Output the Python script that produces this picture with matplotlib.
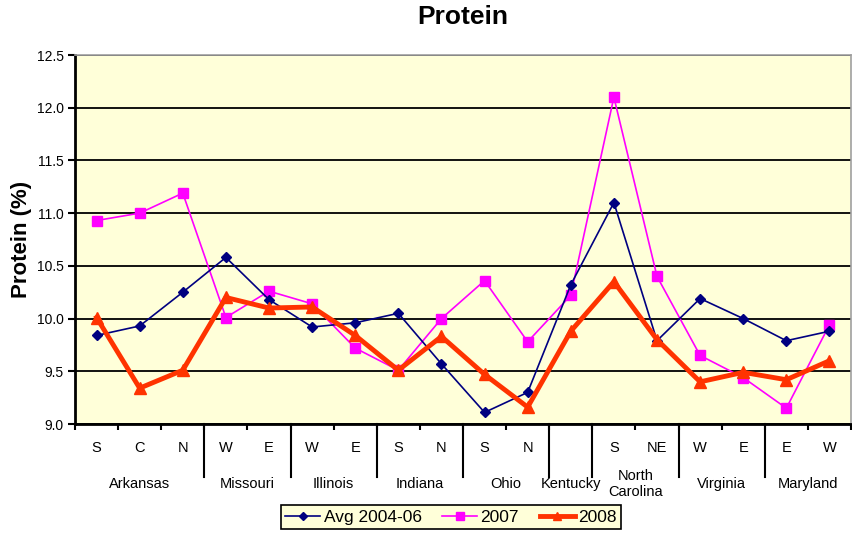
import matplotlib
matplotlib.use("Agg")
import matplotlib.pyplot as plt
import matplotlib.transforms as mtransforms

plt.rcParams['font.family'] = ['Liberation Sans', 'DejaVu Sans']

# Sub-region labels and their states
sub_labels = ["S", "C", "N", "W", "E", "W", "E", "S", "N", "S", "N", "",
              "S", "NE", "W", "E", "E", "W"]
states = ["Arkansas", "Missouri", "Illinois", "Indiana", "Ohio", "Kentucky",
          "North\nCarolina", "Virginia", "Maryland"]
state_sizes = [3, 2, 2, 2, 2, 1, 2, 2, 2]

# Protein (%) by region
avg_2004_06 = [9.84, 9.93, 10.25, 10.58, 10.18, 9.92, 9.96, 10.05, 9.57,
               9.11, 9.30, 10.32, 11.10, 9.79, 10.19, 10.00, 9.79, 9.88]
y2007 = [10.93, 11.00, 11.19, 10.01, 10.26, 10.14, 9.72, 9.51, 10.00,
         10.36, 9.78, 10.22, 12.10, 10.40, 9.65, 9.44, 9.15, 9.94]
y2008 = [10.01, 9.34, 9.51, 10.20, 10.10, 10.11, 9.84, 9.51, 9.83,
         9.47, 9.16, 9.88, 10.35, 9.80, 9.40, 9.49, 9.42, 9.60]

series_names = ["Avg 2004-06", "2007", "2008"]

W, H = 852, 533
fig = plt.figure(figsize=(W / 100, H / 100), dpi=100)
left, right, top, bottom = 75, 851, 55, 424
ax = fig.add_axes([left / W, 1 - bottom / H, (right - left) / W, (bottom - top) / H])
ax.set_facecolor("#FFFFD9")

x = list(range(len(sub_labels)))

ax.plot(x, avg_2004_06, color="#000080", lw=1.2, marker="D", ms=5.5,
        label=series_names[0], zorder=4)
ax.plot(x, y2007, color="#FF00FF", lw=1.2, marker="s", ms=7,
        label=series_names[1], zorder=3)
ax.plot(x, y2008, color="#FF3300", lw=3.5, marker="^", ms=8,
        label=series_names[2], zorder=5)

ax.set_xlim(-0.5, len(sub_labels) - 0.5)
ax.set_ylim(9.0, 12.5)
ax.set_yticks([9.0 + 0.5 * i for i in range(8)])
ax.set_yticklabels([f"{9.0 + 0.5 * i:.1f}" for i in range(8)], fontsize=10)
ax.yaxis.grid(True, color="black", lw=1.3)
ax.set_axisbelow(True)

# tick marks at every category boundary
ax.set_xticks([i - 0.5 for i in range(len(sub_labels) + 1)])
ax.set_xticklabels([])
ax.tick_params(axis="x", direction="out", length=4, width=1.5, color="black")
ax.tick_params(axis="y", direction="out", length=5, width=1.5, color="black", pad=3)

for side in ("left", "bottom"):
    ax.spines[side].set_linewidth(2)
    ax.spines[side].set_color("black")
for side in ("top", "right"):
    ax.spines[side].set_linewidth(1.2)
    ax.spines[side].set_color("#A0A0A0")

trans = mtransforms.blended_transform_factory(ax.transData, ax.transAxes)
axh = bottom - top
for i, lab in enumerate(sub_labels):
    ax.text(i, -(448 - bottom) / axh, lab, transform=trans, ha="center",
            va="center", fontsize=10.5)

start = 0
for k, (st, n) in enumerate(zip(states, state_sizes)):
    center = start + (n - 1) / 2
    ax.text(center, -(484 - bottom) / axh, st, transform=trans, ha="center",
            va="center", fontsize=10.5, linespacing=1.2)
    if k > 0:
        ax.plot([start - 0.5, start - 0.5], [0, -(477 - bottom) / axh],
                transform=trans, color="black", lw=1.5, clip_on=False)
    start += n

fig.text(22 / W, 1 - ((top + bottom) / 2) / H, "Protein (%)", rotation=90,
         ha="center", va="center", fontsize=16, fontweight="bold")
fig.text(((left + right) / 2) / W, 1 - 17 / H, "Protein", ha="center",
         va="center", fontsize=19, fontweight="bold")

leg = fig.legend(loc="center", bbox_to_anchor=(451 / W, 1 - 517 / H), ncol=3,
                 fontsize=12.5, frameon=True, fancybox=False, edgecolor="black",
                 facecolor="#FFFFD9", framealpha=1, handlelength=2.0,
                 columnspacing=1.2, handletextpad=0.2, borderpad=0.25,
                 markerscale=0.8)
leg.get_frame().set_linewidth(1.2)

fig.savefig("out.png", dpi=100)
